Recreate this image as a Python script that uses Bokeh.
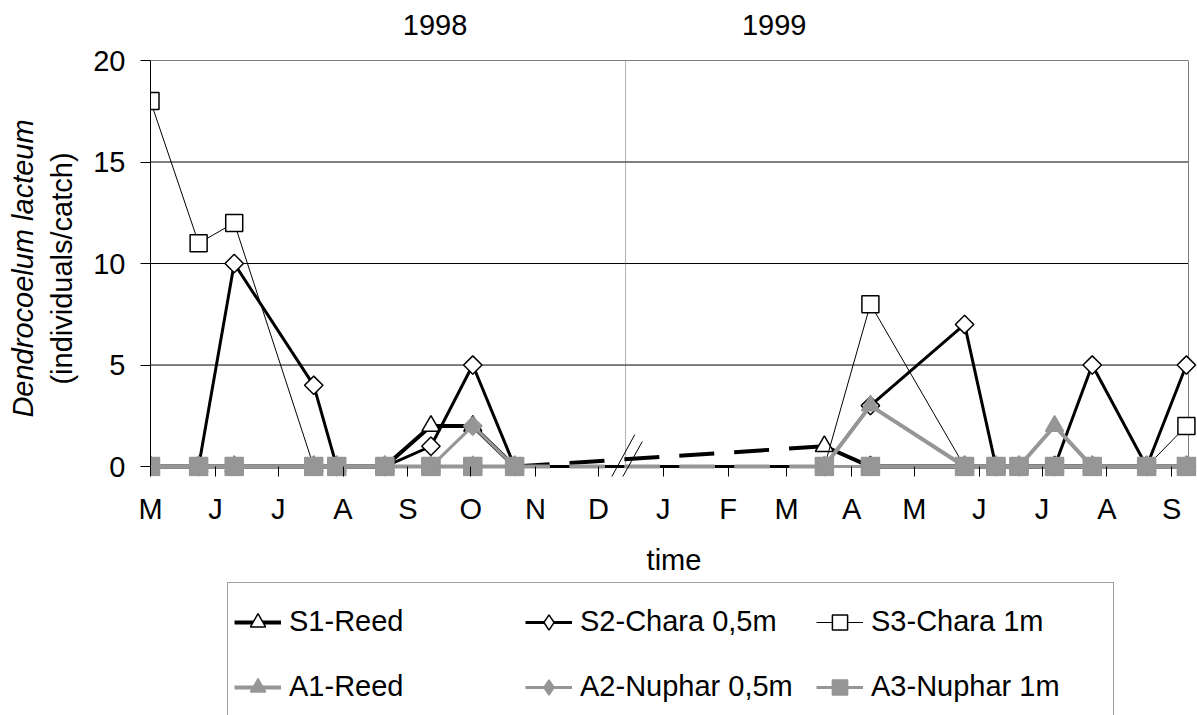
import datetime as dt
import math
from bokeh.plotting import figure
from bokeh.layouts import column
from bokeh.models import (LinearAxis, FixedTicker, Range1d, Legend, LegendItem,
                          Arrow)
from bokeh.embed import file_html
from bokeh.resources import INLINE

# ---------------- data ----------------
START = "1998-05-01"
END = "1999-09-09"
sample_dates = ["1998-05-01", "1998-05-24", "1998-06-10", "1998-07-18", "1998-07-29",
                "1998-08-21", "1998-09-12", "1998-10-02", "1998-10-22",
                "1999-03-19", "1999-04-10", "1999-05-25", "1999-06-09", "1999-06-20",
                "1999-07-07", "1999-07-25", "1999-08-20", "1999-09-08"]
s1_reed      = [0, 0, 0, 0, 0, 0, 2, 2, 0, 1, 0, 0, 0, 0, 0, 0, 0, 0]
s2_chara_05m = [0, 0, 10, 4, 0, 0, 1, 5, 0, 0, 3, 7, 0, 0, 0, 5, 0, 5]
s3_chara_1m  = [18, 11, 12, 0, 0, 0, 0, 0, 0, 0, 8, 0, 0, 0, 0, 0, 0, 2]
a1_reed      = [0, 0, 0, 0, 0, 0, 0, 0, 0, 0, 3, 0, 0, 0, 2, 0, 0, 0]
a2_nuphar_05m = [0, 0, 0, 0, 0, 0, 0, 2, 0, 0, 0, 0, 0, 0, 0, 0, 0, 0]
a3_nuphar_1m = [0, 0, 0, 0, 0, 0, 0, 0, 0, 0, 0, 0, 0, 0, 0, 0, 0, 0]
series_labels = ["S1-Reed", "S2-Chara 0,5m", "S3-Chara 1m",
                 "A1-Reed", "A2-Nuphar 0,5m", "A3-Nuphar 1m"]

month_starts = ["1998-05-01", "1998-06-01", "1998-07-01", "1998-08-01", "1998-09-01",
                "1998-10-01", "1998-11-01", "1998-12-01", "1999-01-01", "1999-02-01",
                "1999-03-01", "1999-04-01", "1999-05-01", "1999-06-01", "1999-07-01",
                "1999-08-01", "1999-09-01"]
month_labels = ["M", "J", "J", "A", "S", "O", "N", "D", "J", "F", "M", "A", "M",
                "J", "J", "A", "S"]
year_label_dates = ["1998-09-14", "1999-02-23"]
year_labels = ["1998", "1999"]
divider_date = "1998-12-14"
y_ticks = [0, 5, 10, 15, 20]
Y_MAX = 20
LAST_1998 = 8  # index of the last sampling of 1998


def day(s):
    return (dt.date.fromisoformat(s) - dt.date.fromisoformat(START)).days


xs = [day(d) for d in sample_dates]
month_days = [day(d) for d in month_starts]
year_days = [day(d) for d in year_label_dates]
end_day = day(END)

FONT = "Liberation Sans"
FS = "29px"
GRAY = "#969696"
W = 1197
H_MAIN = 578
H_LEG = 137

# a little room outside the plot area (right and below) so markers are not cut
p = figure(width=W, height=H_MAIN, output_backend="svg", toolbar_location=None,
           x_range=Range1d(0, end_day + 4.3), y_range=Range1d(-0.49, Y_MAX),
           min_border_left=150, min_border_right=0, min_border_top=60,
           min_border_bottom=0, background_fill_color="white",
           border_fill_color="white")
p.outline_line_color = None

# x axis (months): ticks reach up to the zero line, labels below
xa = p.xaxis[0]
xa.ticker = FixedTicker(ticks=month_days)
xa.major_label_overrides = {d: l for d, l in zip(month_days, month_labels)}
xa.minor_tick_line_color = None
xa.major_tick_out = 0
xa.major_tick_in = 10
xa.major_label_standoff = 16
xa.axis_label = "time"
xa.axis_label_standoff = 16

# y axis
ya = p.yaxis[0]
ya.bounds = (0, Y_MAX)
ya.ticker = FixedTicker(ticks=y_ticks)
ya.minor_tick_line_color = None
ya.major_tick_out = 10
ya.major_tick_in = 0
ya.major_label_standoff = 15
ya.axis_label = "(individuals/catch)"
ya.axis_label_standoff = 12

for ax in [xa, ya]:
    ax.major_label_text_font = FONT
    ax.major_label_text_font_size = FS
    ax.major_label_text_color = "black"
    ax.axis_label_text_font = FONT
    ax.axis_label_text_font_size = FS
    ax.axis_label_text_font_style = "normal"
    ax.axis_label_text_color = "black"
    ax.axis_line_color = "black"
    ax.major_tick_line_color = "black"
xa.axis_line_color = None  # the zero line is drawn below as the axis line

ya2 = LinearAxis(ticker=FixedTicker(ticks=[]), axis_label="Dendrocoelum lacteum",
                 axis_label_text_font=FONT, axis_label_text_font_size=FS,
                 axis_label_text_font_style="italic", axis_label_text_color="black",
                 axis_line_color=None, major_tick_line_color=None,
                 minor_tick_line_color=None, axis_label_standoff=5)
p.add_layout(ya2, "left")

# year labels above
top = LinearAxis(ticker=FixedTicker(ticks=year_days),
                 major_label_overrides={d: l for d, l in zip(year_days, year_labels)},
                 axis_line_color=None, major_tick_line_color=None,
                 minor_tick_line_color=None, major_tick_out=0, major_tick_in=0,
                 major_label_standoff=26, major_label_text_font=FONT,
                 major_label_text_font_size=FS, major_label_text_color="black")
p.add_layout(top, "above")

p.xgrid.grid_line_color = None
p.ygrid.grid_line_color = None

# horizontal gridlines, zero line, right border, dotted year divider
grid_vals = y_ticks[1:]
p.segment(x0=[0] * len(grid_vals), y0=grid_vals, x1=[end_day] * len(grid_vals),
          y1=grid_vals, line_color="black", line_width=1)
p.segment(x0=[day(divider_date)], y0=[0], x1=[day(divider_date)], y1=[Y_MAX],
          line_color="#666666", line_width=1, line_dash="1 1")
p.segment(x0=[end_day], y0=[0], x1=[end_day], y1=[Y_MAX], line_color="#808080",
          line_width=1)
p.segment(x0=[0], y0=[0], x1=[end_day], y1=[0], line_color="black", line_width=1)

# ---------------- series ----------------
styles = [
    dict(color="black", width=4, marker="triangle", size=18, fill="white", angle=0.0,
         legend_marker="triangle", winter="35 20"),
    dict(color="black", width=3, marker="square", size=13, fill="white",
         angle=math.pi / 4, legend_marker="diamond", winter="solid"),
    dict(color="black", width=1, marker="square", size=17, fill="white", angle=0.0,
         legend_marker="square", winter="solid"),
    dict(color=GRAY, width=4, marker="triangle", size=18, fill=GRAY, angle=0.0,
         legend_marker="triangle", winter="35 20"),
    dict(color=GRAY, width=3, marker="square", size=13, fill=GRAY,
         angle=math.pi / 4, legend_marker="diamond", winter="35 20"),
    dict(color=GRAY, width=3, marker="square", size=18, fill=GRAY, angle=0.0,
         legend_marker="square", winter="35 20"),
]
values = [s1_reed, s2_chara_05m, s3_chara_1m, a1_reed, a2_nuphar_05m, a3_nuphar_1m]

# legend lives in its own strip below the chart
pl = figure(width=W, height=H_LEG, output_backend="svg", toolbar_location=None,
            x_range=Range1d(0, 1), y_range=Range1d(0, 1),
            x_axis_location=None, y_axis_location=None, min_border=0,
            background_fill_color="white", border_fill_color="white")
pl.outline_line_color = None
pl.grid.grid_line_color = None

items = []
for label, vals, st in zip(series_labels, values, styles):
    c, w = st["color"], st["width"]
    p.line(xs[:LAST_1998 + 1], vals[:LAST_1998 + 1], line_color=c,
           line_width=w, line_join="round")
    p.line(xs[LAST_1998:LAST_1998 + 2], vals[LAST_1998:LAST_1998 + 2], line_color=c,
           line_width=w, line_dash=st["winter"])
    p.line(xs[LAST_1998 + 1:], vals[LAST_1998 + 1:], line_color=c, line_width=w,
           line_join="round")
    p.scatter(xs, vals, marker=st["marker"], size=st["size"],
              angle=st["angle"], fill_color=st["fill"], line_color=c,
              line_width=1.5)
    # legend glyph carriers: one point each, placed outside the strip's range
    l_line = pl.line(x=[-5, -4], y=[-5, -5], line_color=c, line_width=w)
    l_mk = pl.scatter(x=[-5], y=[-5], marker=st["legend_marker"], size=st["size"],
                      fill_color=st["fill"], line_color=c, line_width=1.5)
    items.append(LegendItem(label=label, renderers=[l_line, l_mk]))

# axis break marks "//"
brk = day(divider_date)
break_marks = [((4.4, 1.57), (-9.2, -0.99)), ((8.0, 1.23), (-5.8, -1.33))]
for (dx0, y0), (dx1, y1) in break_marks:
    p.add_layout(Arrow(end=None, x_start=brk + dx0, y_start=y0, x_end=brk + dx1,
                       y_end=y1, line_color="black", line_width=1))

legend = Legend(items=items, nrows=2, orientation="horizontal", location=(77, -11),
                label_text_font=FONT, label_text_font_size=FS,
                label_text_color="black",
                glyph_width=47, glyph_height=38, label_height=65, label_width=236,
                label_standoff=8, spacing=0, padding=6, margin=0,
                border_line_color="#404040", border_line_width=1,
                background_fill_alpha=1)
pl.add_layout(legend)

layout = column(p, pl, spacing=0)
open("out.html", "w").write(file_html(layout, INLINE))
